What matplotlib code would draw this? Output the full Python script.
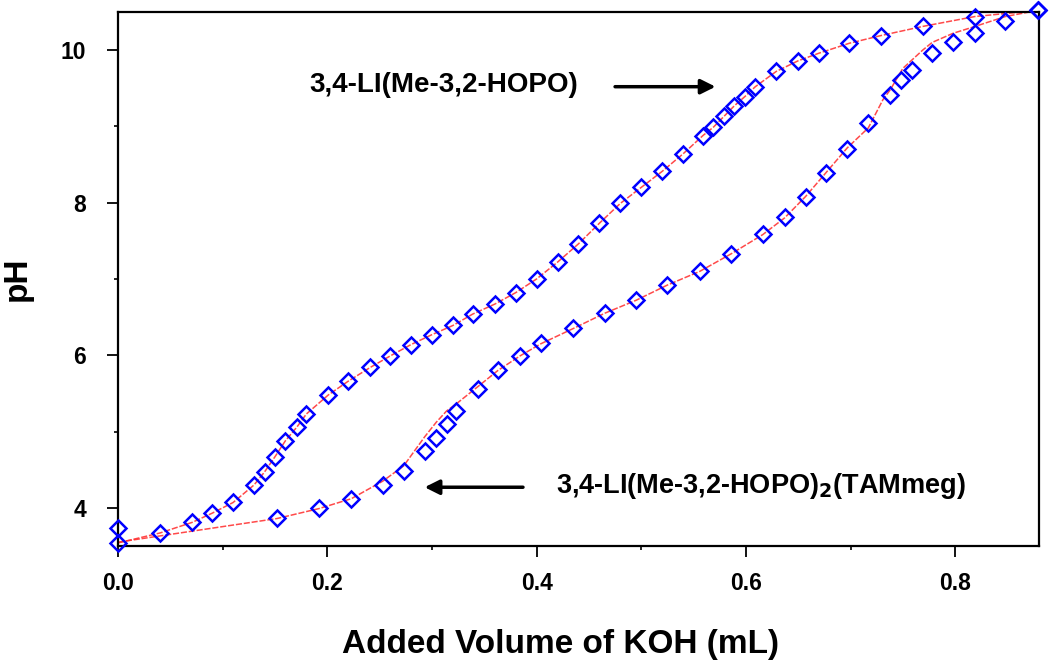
import numpy as np
import matplotlib.pyplot as plt
from matplotlib.ticker import MultipleLocator

#____________ data ____________

# 3,4-LI(Me-3,2-HOPO)
vol_hopo = [0.0, 0.040, 0.071, 0.090, 0.110, 0.130, 0.140, 0.150, 0.160, 0.171,
            0.180, 0.201, 0.220, 0.241, 0.260, 0.280, 0.300, 0.320, 0.339, 0.360,
            0.380, 0.400, 0.420, 0.440, 0.460, 0.480, 0.500, 0.520, 0.540, 0.559,
            0.569, 0.579, 0.589, 0.599, 0.609, 0.629, 0.650, 0.670, 0.699, 0.729,
            0.769, 0.819, 0.879]
ph_hopo = [3.54, 3.67, 3.81, 3.93, 4.07, 4.30, 4.47, 4.67, 4.88, 5.06,
           5.23, 5.48, 5.66, 5.84, 5.99, 6.14, 6.27, 6.39, 6.54, 6.67,
           6.82, 7.00, 7.22, 7.46, 7.73, 7.99, 8.20, 8.41, 8.64, 8.88,
           8.99, 9.13, 9.27, 9.39, 9.52, 9.72, 9.86, 9.96, 10.09, 10.19,
           10.31, 10.44, 10.52]

# 3,4-LI(Me-3,2-HOPO)2(TAMmeg)
vol_tam = [0.0, 0.152, 0.192, 0.223, 0.253, 0.273, 0.293, 0.304, 0.314, 0.323,
           0.344, 0.363, 0.384, 0.404, 0.435, 0.465, 0.495, 0.525, 0.556, 0.586,
           0.616, 0.637, 0.657, 0.677, 0.697, 0.717, 0.738, 0.748, 0.759, 0.778,
           0.798, 0.819, 0.848, 0.879]
ph_tam = [3.73, 3.87, 4.00, 4.12, 4.30, 4.48, 4.74, 4.92, 5.10, 5.27,
          5.56, 5.81, 5.99, 6.16, 6.36, 6.55, 6.72, 6.92, 7.10, 7.33,
          7.59, 7.81, 8.08, 8.39, 8.70, 9.05, 9.41, 9.61, 9.74, 9.96,
          10.11, 10.22, 10.38, 10.52]

# fitted curve for the TAMmeg titration (deviates from the points a bit)
vol_tam_fit = [0.0, 0.152, 0.192, 0.223, 0.253, 0.273, 0.293, 0.304, 0.314, 0.323,
               0.344, 0.363, 0.384, 0.404, 0.435, 0.465, 0.495, 0.525, 0.556, 0.586,
               0.616, 0.637, 0.657, 0.677, 0.697, 0.717, 0.731, 0.738, 0.750, 0.769,
               0.778, 0.798, 0.819, 0.848, 0.879]
ph_tam_fit = [3.55, 3.86, 3.99, 4.12, 4.35, 4.55, 4.93, 5.12, 5.27, 5.36,
              5.59, 5.80, 5.99, 6.15, 6.35, 6.55, 6.72, 6.92, 7.10, 7.33,
              7.58, 7.80, 8.08, 8.40, 8.72, 8.98, 9.35, 9.48, 9.76, 10.00,
              10.10, 10.22, 10.31, 10.44, 10.52]

#____________ plot ____________
plt.rcParams['font.family'] = ['Liberation Sans', 'DejaVu Sans']
plt.rcParams['font.weight'] = 'bold'

fig = plt.figure(figsize=(10.5, 6.63), dpi=100)
ax = fig.add_axes([0.1124, 0.1765, 0.877, 0.8055])

fitstyle = dict(color='#ff2a2a', lw=1.1, ls=(0, (4, 1.2)), alpha=0.85, zorder=2)
ax.plot(vol_hopo, ph_hopo, **fitstyle)
ax.plot(vol_tam_fit, ph_tam_fit, **fitstyle)

mk = dict(ls='none', marker='D', ms=8.5, mfc='none', mec='#0000ff', mew=1.8, zorder=3,
          clip_on=False)
ax.plot(vol_hopo, ph_hopo, **mk)
ax.plot(vol_tam, ph_tam, **mk)

ax.set_xlim(0, 0.88)
ax.set_ylim(3.5, 10.5)
ax.xaxis.set_major_locator(MultipleLocator(0.2))
ax.xaxis.set_minor_locator(MultipleLocator(0.1))
ax.yaxis.set_major_locator(MultipleLocator(2))
ax.yaxis.set_minor_locator(MultipleLocator(1))
ax.xaxis.set_major_formatter(plt.FormatStrFormatter('%.1f'))

ax.tick_params(which='major', direction='out', length=8, width=1.3, labelsize=16.5)
ax.tick_params(which='minor', direction='out', length=3, width=1.2)
ax.tick_params(axis='x', which='major', pad=11)
ax.tick_params(axis='y', which='major', pad=15)
for lab in ax.get_xticklabels() + ax.get_yticklabels():
    lab.set_fontweight('bold')
for sp in ax.spines.values():
    sp.set_linewidth(1.6)

ax.set_xlabel('Added Volume of KOH (mL)', fontsize=24, fontweight='bold')
ax.xaxis.set_label_coords(0.48, -0.156)
ax.set_ylabel('pH', fontsize=24, fontweight='bold', labelpad=20)

narrow = ['Liberation Sans Narrow', 'Liberation Sans', 'DejaVu Sans']
ax.annotate('', xy=(0.571, 9.52), xytext=(0.475, 9.52),
            arrowprops=dict(arrowstyle='-|>', color='black', lw=2.5, mutation_scale=22,
                            shrinkA=0, shrinkB=0))
ax.text(0.183, 9.54, '3,4-LI(Me-3,2-HOPO)', fontsize=20, fontweight='bold',
        family=narrow, va='center', ha='left')

ax.annotate('', xy=(0.293, 4.27), xytext=(0.387, 4.27),
            arrowprops=dict(arrowstyle='-|>', color='black', lw=2.5, mutation_scale=22,
                            shrinkA=0, shrinkB=0))
ax.text(0.419, 4.29, r'3,4-LI(Me-3,2-HOPO)$_\mathbf{2}$(TAMmeg)', fontsize=19.5,
        fontweight='bold', family=narrow, va='center', ha='left')

fig.savefig('out.png', dpi=100)
